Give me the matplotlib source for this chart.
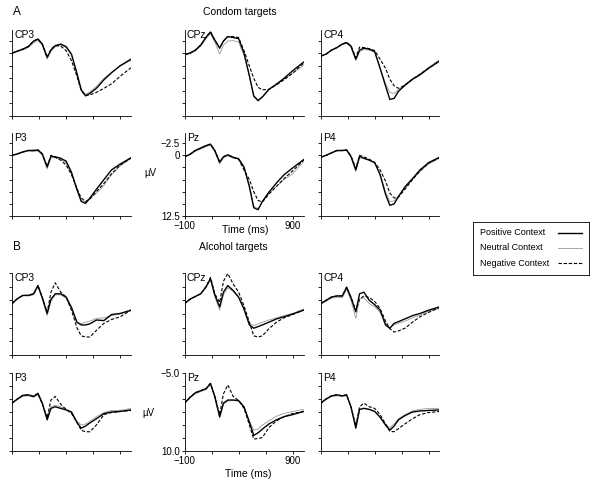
import matplotlib.pyplot as plt

plt.rcParams['font.family'] = ['Liberation Sans', 'DejaVu Sans']

T = [-100, -50, 0, 50, 100, 140, 180, 225, 260, 300, 350, 400, 450, 500,
     540, 580, 620, 680, 750, 820, 900, 1000]

# A: condom targets (microvolts, positive plotted down)
A_CP3_POS = [0, -0.4, -0.8, -1.3, -2.4, -2.8, -1.8, 0.8, -0.6, -1.5, -1.8, -1.3, 0.2, 4.0, 7.3, 8.5, 8.0, 7.0, 5.3, 3.9, 2.5, 1.2]
A_CP3_NEU = [0.1, -0.3, -0.6, -1.1, -2.0, -2.5, -1.6, 1.2, -0.4, -1.3, -1.6, -1.1, 0.4, 4.2, 7.3, 8.2, 7.7, 6.6, 5.0, 3.8, 2.6, 1.4]
A_CP3_NEG = [0, -0.4, -0.8, -1.3, -2.4, -2.8, -1.8, 0.9, -0.8, -1.5, -1.4, -0.5, 1.5, 4.6, 7.5, 8.4, 8.3, 7.8, 7.0, 6.1, 4.6, 2.9]

A_CPZ_POS = [0.3, 0, -0.6, -1.6, -3.2, -4.2, -2.6, -1.0, -2.4, -3.3, -3.1, -2.9, 0, 4.5, 8.5, 9.4, 8.7, 7.2, 6.2, 5.0, 3.5, 1.8]
A_CPZ_NEU = [0.3, 0.1, -0.4, -1.4, -2.9, -3.9, -2.2, 0.2, -1.6, -2.4, -2.5, -2.2, 0.4, 4.7, 8.7, 9.6, 8.8, 7.3, 6.0, 5.2, 4.0, 2.4]
A_CPZ_NEG = [0.3, 0, -0.6, -1.6, -3.2, -4.2, -2.6, -1.0, -2.4, -3.3, -3.3, -3.1, -0.5, 2.6, 5.0, 6.8, 7.3, 7.2, 6.3, 5.3, 4.0, 2.0]

A_CP4_POS = [0.6, 0.2, -0.6, -1.1, -1.8, -2.1, -1.4, 1.2, -0.6, -1.0, -0.8, -0.3, 3.0, 6.5, 9.2, 9.0, 7.6, 6.4, 5.2, 4.3, 3.0, 1.6]
A_CP4_NEU = [0.6, 0.2, -0.6, -1.1, -1.7, -1.9, -1.2, 1.5, -0.3, -0.7, -0.6, -0.2, 3.0, 6.0, 7.8, 8.0, 7.3, 6.2, 5.1, 4.1, 2.8, 1.3]
A_CP4_NEG = [0.6, 0.2, -0.6, -1.1, -1.8, -2.1, -1.5, 0.9, -1.2, -1.1, -0.9, -0.5, 1.2, 3.0, 5.2, 6.5, 7.0, 6.4, 5.2, 4.2, 3.0, 1.5]

A_P3_POS = [0, -0.3, -0.7, -1.0, -1.0, -1.1, -0.3, 2.4, 0.2, 0.3, 0.6, 1.2, 3.5, 7.0, 9.5, 9.9, 8.8, 7.0, 5.0, 3.0, 1.8, 0.5]
A_P3_NEU = [0, -0.2, -0.6, -0.9, -0.8, -0.9, 0, 2.8, 0.5, 0.5, 0.8, 1.5, 3.8, 7.2, 9.3, 9.6, 9.0, 7.8, 6.2, 4.0, 2.2, 0.6]
A_P3_NEG = [0, -0.3, -0.7, -1.0, -1.0, -1.1, -0.3, 2.3, 0, 0.4, 1.0, 2.0, 4.0, 6.8, 8.8, 9.5, 9.0, 7.5, 5.8, 3.8, 2.0, 0.6]

A_PZ_POS = [0.3, -0.2, -1.0, -1.5, -2.0, -2.3, -1.0, 1.4, 0.3, -0.1, 0.4, 0.7, 2.4, 6.5, 10.8, 11.2, 9.5, 7.6, 5.7, 4.0, 2.6, 0.9]
A_PZ_NEU = [0.3, -0.1, -0.8, -1.3, -1.8, -2.1, -0.7, 1.8, 0.5, 0.1, 0.6, 0.8, 2.5, 6.2, 10.5, 11.0, 9.6, 7.9, 6.4, 5.0, 3.8, 1.3]
A_PZ_NEG = [0.3, -0.2, -1.0, -1.5, -2.0, -2.3, -1.0, 1.4, 0.3, -0.1, 0.4, 0.8, 3.0, 5.0, 7.5, 9.3, 9.6, 8.0, 6.4, 4.8, 3.2, 1.0]

A_P4_POS = [0.4, 0, -0.5, -1.0, -1.0, -1.1, 0.2, 3.0, 0.2, 0.6, 1.0, 1.5, 4.0, 8.0, 10.3, 10.0, 8.5, 6.5, 4.8, 3.0, 1.5, 0.4]
A_P4_NEU = [0.4, 0, -0.5, -0.9, -0.9, -1.0, 0.4, 3.3, 0.5, 0.7, 1.0, 1.5, 3.8, 7.5, 9.5, 9.4, 8.3, 6.8, 5.0, 3.3, 1.8, 0.6]
A_P4_NEG = [0.4, 0, -0.5, -1.0, -1.0, -1.1, 0.1, 2.7, 0, 0.3, 0.8, 1.5, 3.0, 5.3, 7.8, 8.8, 8.6, 7.0, 5.0, 3.2, 1.6, 0.5]

# B: alcohol targets
B_CP3_POS = [0.6, -0.3, -0.9, -0.9, -1.2, -2.7, -0.5, 2.4, -0.2, -1.2, -1.2, -0.6, 1.3, 4.0, 4.5, 4.5, 4.3, 3.6, 3.7, 2.6, 2.4, 1.8]
B_CP3_NEU = [0.6, -0.3, -0.9, -0.8, -1.0, -2.5, -0.2, 2.8, 0.2, -1.0, -1.0, -0.4, 1.5, 4.0, 4.3, 4.0, 3.8, 3.3, 3.2, 2.8, 2.5, 1.8]
B_CP3_NEG = [0.6, -0.3, -0.9, -0.9, -1.2, -2.7, -0.5, 2.2, -1.5, -3.2, -1.5, -0.6, 1.8, 5.0, 6.5, 6.7, 6.7, 5.5, 4.2, 3.5, 3.0, 1.8]

B_CPZ_POS = [0.6, -0.2, -0.7, -1.2, -2.5, -4.0, -1.0, 1.2, -1.5, -2.7, -1.8, -0.6, 1.6, 4.5, 5.1, 4.8, 4.5, 4.0, 3.4, 3.0, 2.5, 1.8]
B_CPZ_NEU = [0.6, -0.2, -0.7, -1.2, -2.3, -3.7, -0.7, 1.8, -1.0, -2.3, -1.6, -0.5, 1.7, 4.3, 4.6, 4.3, 4.0, 3.6, 3.2, 2.8, 2.4, 1.6]
B_CPZ_NEG = [0.6, -0.2, -0.7, -1.2, -2.5, -4.2, -1.2, 0.4, -3.5, -4.9, -3.0, -1.5, 1.0, 4.0, 6.5, 6.7, 6.5, 5.2, 4.0, 3.2, 2.6, 1.8]

B_CP4_POS = [0.6, 0, -0.6, -0.8, -0.8, -2.4, -0.5, 2.1, -1.2, -1.5, 0, 0.8, 1.8, 4.5, 5.1, 4.2, 3.9, 3.4, 2.8, 2.4, 1.8, 1.2]
B_CP4_NEU = [0.6, 0.2, -0.4, -0.5, -0.5, -2.0, 0, 3.3, -0.2, -0.5, 0.6, 1.2, 2.2, 4.2, 5.0, 4.5, 4.2, 3.8, 3.2, 2.7, 2.0, 1.5]
B_CP4_NEG = [0.6, 0, -0.6, -0.8, -0.8, -2.4, -0.6, 1.8, -0.2, -0.8, -0.5, 0.2, 1.5, 3.8, 5.2, 5.8, 5.6, 5.1, 4.0, 3.0, 2.2, 1.3]

B_P3_POS = [0.8, 0, -0.7, -0.8, -0.5, -1.1, 0.8, 4.0, 1.8, 1.5, 1.8, 2.1, 2.5, 4.5, 5.6, 5.2, 4.6, 3.8, 2.8, 2.5, 2.4, 2.1]
B_P3_NEU = [0.8, 0.1, -0.5, -0.6, -0.3, -0.8, 1.0, 3.8, 1.5, 1.2, 1.5, 2.0, 2.6, 4.2, 5.0, 4.8, 4.3, 3.4, 2.6, 2.2, 2.2, 1.8]
B_P3_NEG = [0.8, 0, -0.7, -0.8, -0.5, -1.0, 0.9, 3.6, 0.2, -0.5, 1.0, 2.0, 2.8, 4.5, 6.0, 6.3, 6.3, 5.0, 3.0, 2.6, 2.4, 2.2]

B_PZ_POS = [0.8, -0.3, -1.2, -1.6, -2.0, -3.0, -0.5, 3.4, 0.8, 0.2, 0.2, 0.3, 1.5, 4.5, 7.0, 6.5, 5.8, 4.8, 4.0, 3.4, 3.0, 2.4]
B_PZ_NEU = [0.8, -0.2, -1.0, -1.4, -1.8, -2.8, -0.2, 3.7, 1.0, 0.4, 0.3, 0.4, 1.5, 4.2, 6.0, 5.8, 5.0, 4.2, 3.3, 2.8, 2.4, 2.0]
B_PZ_NEG = [0.8, -0.3, -1.2, -1.6, -2.0, -3.0, -0.5, 3.0, -1.0, -2.7, -0.5, 0.3, 1.8, 5.0, 7.7, 7.6, 7.4, 5.5, 4.2, 3.4, 2.8, 2.4]

B_P4_POS = [0.8, 0, -0.6, -0.8, -0.6, -0.8, 1.5, 5.6, 2.0, 1.8, 2.0, 2.4, 3.5, 5.0, 6.0, 5.2, 4.0, 3.2, 2.5, 2.3, 2.2, 2.1]
B_P4_NEU = [0.8, 0.1, -0.5, -0.6, -0.5, -0.6, 1.5, 5.0, 2.0, 1.8, 2.0, 2.4, 3.5, 4.8, 5.6, 4.8, 3.8, 3.0, 2.3, 2.0, 1.8, 1.8]
B_P4_NEG = [0.8, 0, -0.6, -0.8, -0.6, -0.8, 1.5, 5.2, 1.5, 0.8, 1.5, 1.8, 3.0, 4.8, 6.2, 6.3, 5.7, 4.8, 3.8, 3.0, 2.6, 2.4]

ELECTRODES = [["CP3", "CPz", "CP4"], ["P3", "Pz", "P4"]]
A_DATA = [[(A_CP3_POS, A_CP3_NEU, A_CP3_NEG), (A_CPZ_POS, A_CPZ_NEU, A_CPZ_NEG), (A_CP4_POS, A_CP4_NEU, A_CP4_NEG)],
          [(A_P3_POS, A_P3_NEU, A_P3_NEG), (A_PZ_POS, A_PZ_NEU, A_PZ_NEG), (A_P4_POS, A_P4_NEU, A_P4_NEG)]]
B_DATA = [[(B_CP3_POS, B_CP3_NEU, B_CP3_NEG), (B_CPZ_POS, B_CPZ_NEU, B_CPZ_NEG), (B_CP4_POS, B_CP4_NEU, B_CP4_NEG)],
          [(B_P3_POS, B_P3_NEU, B_P3_NEG), (B_PZ_POS, B_PZ_NEU, B_PZ_NEG), (B_P4_POS, B_P4_NEU, B_P4_NEG)]]

CONDITIONS = ['Positive Context', 'Neutral Context', 'Negative Context']

A_YTICKS = [-2.5, 0, 2.5, 5, 7.5, 10, 12.5]
A_YLABELS = ['\u22122.5', '0', '', '', '', '', '12.5']
B_YTICKS = [-5, -2.5, 0, 2.5, 5, 7.5, 10]
B_YLABELS = ['\u22125.0', '', '', '', '', '', '10.0']
XTICKS = [-100, 150, 400, 650, 900]
XLABELS = ['\u2212100', '', '', '', '900']

W, H = 600, 486
COLS = [(12, 131), (184.5, 303.5), (320.7, 439.5)]
ROWS_A = [(30, 116), (133, 216)]
ROWS_B = [(273, 355), (373, 451)]

# line styles for positive, neutral, negative context
STYLES = [dict(color='black', lw=1.0),
          dict(color='#9a9a9a', lw=0.6),
          dict(color='black', lw=0.8, ls=(0, (3, 1.6)))]


def rect(left, top, right, bottom):
    return [left / W, 1 - bottom / H, (right - left) / W, (bottom - top) / H]


def draw_panel(ax, name, traces, ylim, yticks, ylabels, labeled):
    # neutral first, then negative, positive on top
    for i in (1, 2, 0):
        ax.plot(T, traces[i], **STYLES[i])
    ax.set_xlim(-100, 1000)
    ax.set_ylim(ylim)
    for s in ('top', 'right'):
        ax.spines[s].set_visible(False)
    for s in ('left', 'bottom'):
        ax.spines[s].set_linewidth(0.6)
    ax.set_xticks(XTICKS)
    ax.set_yticks(yticks)
    ax.tick_params(length=2, width=0.6, labelsize=7, pad=1.5)
    if labeled:
        ax.set_xticklabels(XLABELS)
        ax.set_yticklabels(ylabels)
    else:
        ax.set_xticklabels([])
        ax.set_yticklabels([])
    ax.text(0.02, 1.0, name, transform=ax.transAxes, ha='left', va='top', fontsize=7.5)


fig = plt.figure(figsize=(6, 4.86), dpi=100)

for rows, data, ylim, yticks, ylabels in [(ROWS_A, A_DATA, (12.5, -4.6), A_YTICKS, A_YLABELS),
                                          (ROWS_B, B_DATA, (10, -5), B_YTICKS, B_YLABELS)]:
    for r, (top, bottom) in enumerate(rows):
        for c, (left, right) in enumerate(COLS):
            ax = fig.add_axes(rect(left, top, right, bottom))
            draw_panel(ax, ELECTRODES[r][c], data[r][c], ylim, yticks, ylabels,
                       labeled=(r == 1 and c == 1))

fig.text(13 / W, 1 - 12 / H, 'A', fontsize=8.5, ha='left', va='center')
fig.text(240 / W, 1 - 12 / H, 'Condom targets', fontsize=7.5, ha='center', va='center')
fig.text(13 / W, 1 - 247 / H, 'B', fontsize=8.5, ha='left', va='center')
fig.text(233 / W, 1 - 247 / H, 'Alcohol targets', fontsize=7.5, ha='center', va='center')

fig.text(150 / W, 1 - 173 / H, '\u00b5V', fontsize=7, ha='center', va='center')
fig.text(148 / W, 1 - 413 / H, '\u00b5V', fontsize=7, ha='center', va='center')
fig.text(245 / W, 1 - 230 / H, 'Time (ms)', fontsize=7.5, ha='center', va='center')
fig.text(248 / W, 1 - 474 / H, 'Time (ms)', fontsize=7.5, ha='center', va='center')

# legend box: labels left-aligned, line samples on the right
lax = fig.add_axes(rect(473, 222, 589, 275))
lax.set_xlim(0, 1)
lax.set_ylim(1, 0)
lax.set_xticks([])
lax.set_yticks([])
for s in lax.spines.values():
    s.set_linewidth(0.6)
for i, label in enumerate(CONDITIONS):
    y = 0.2 + 0.29 * i
    lax.text(0.06, y, label, fontsize=6.5, ha='left', va='center')
    lax.plot([0.73, 0.94], [y, y], **STYLES[i])

fig.savefig('out.png', dpi=100)
